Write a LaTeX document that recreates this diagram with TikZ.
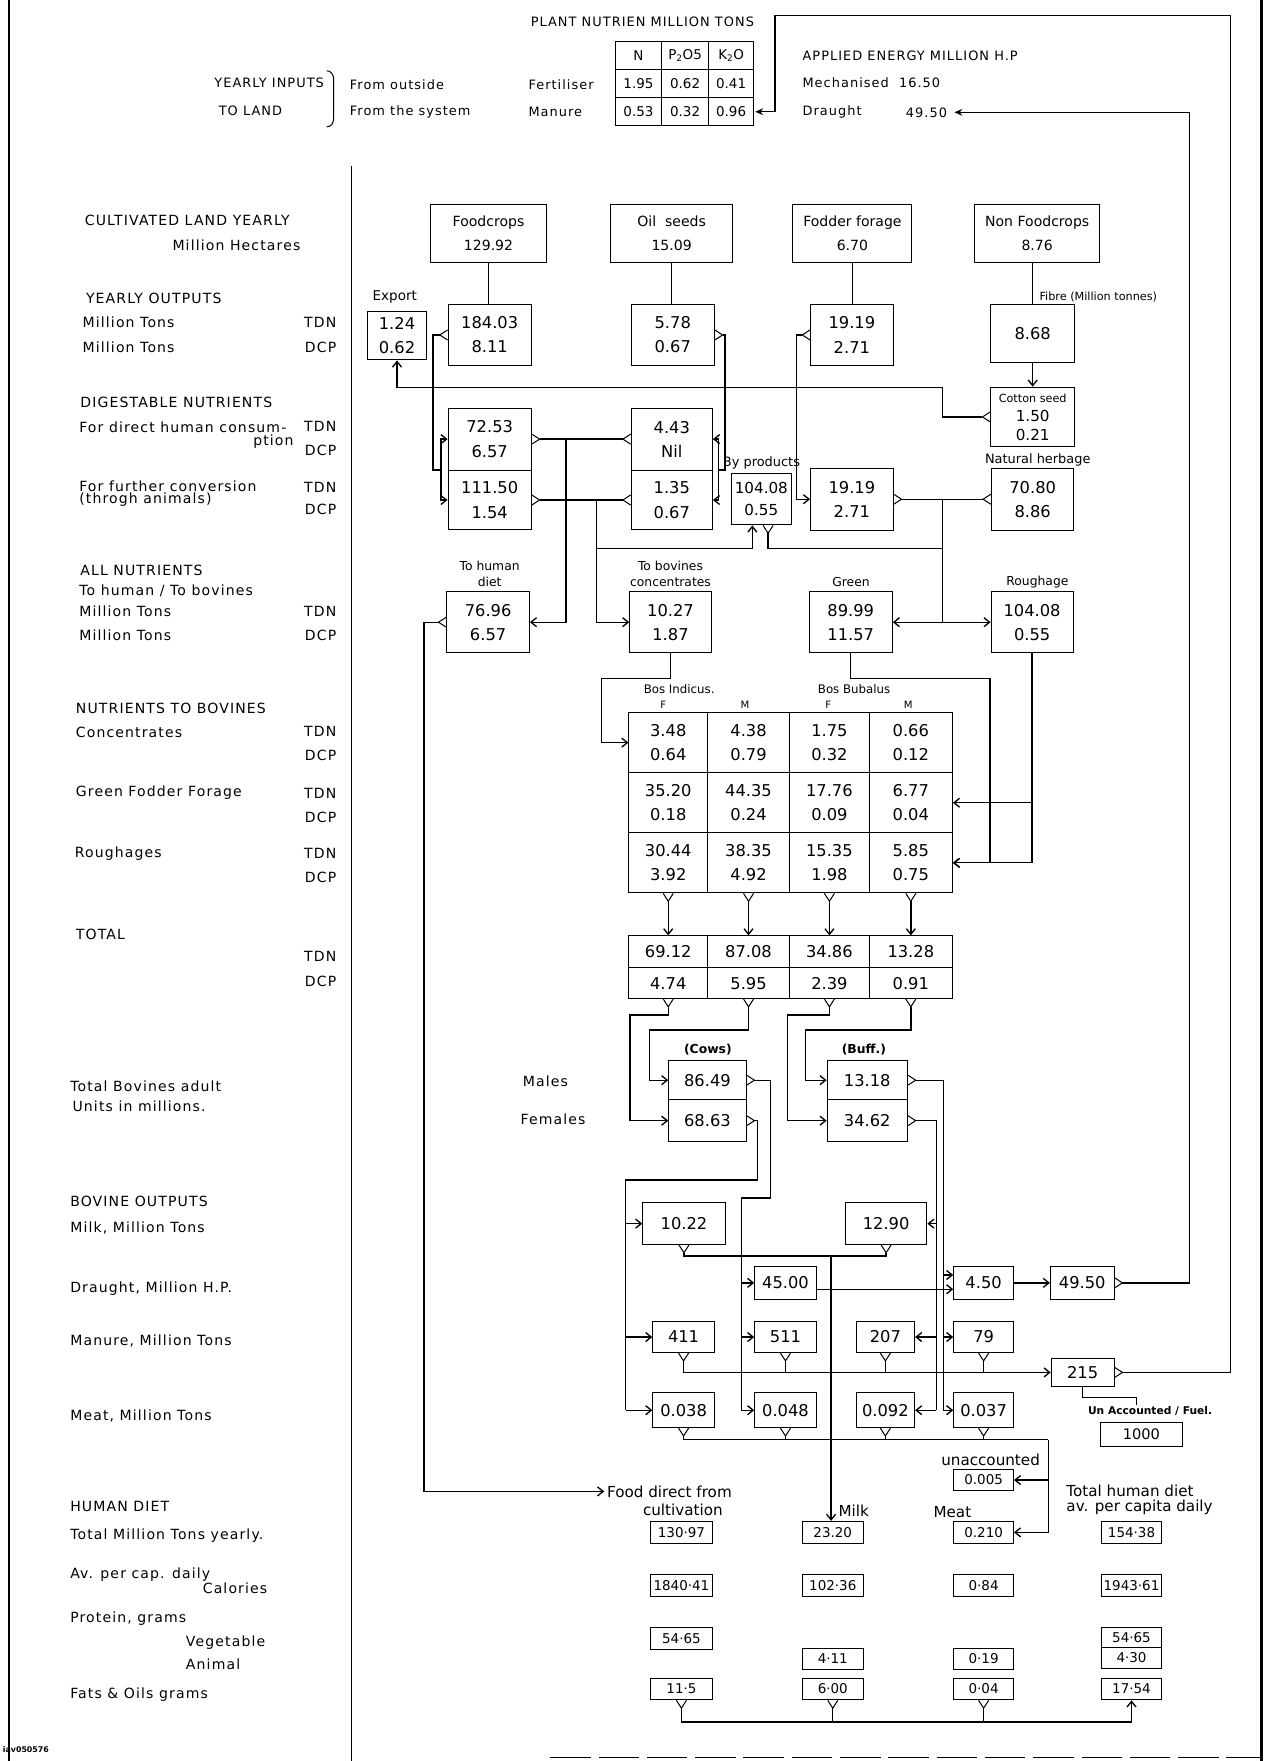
\documentclass[tikz,border=0pt]{standalone}
\usepackage{fontspec}
\setmainfont{DejaVu Sans}
\newfontfamily\spaced[LetterSpace=8]{DejaVu Sans}
\usetikzlibrary{arrows.meta}

\begin{document}
\begin{tikzpicture}[x=1pt,y=-1pt,line width=1.2pt,line cap=butt,line join=miter,
  >={Straight Barb[length=5pt,width=8pt]}]
\tikzset{
  box/.style={draw,line width=0.9pt,inner sep=0pt,align=center,font=\fontsize{14.5}{21.5}\selectfont},
  wh/.style 2 args={minimum width=#1pt,minimum height=#2pt},
  cropbox/.style={box,minimum height=52pt,font=\fontsize{12.5}{21.5}\selectfont},
  tcell/.style={box,minimum height=25pt,font=\fontsize{12}{14}\selectfont},
  tabcell/.style={box,minimum height=53.5pt},
  dietbox/.style={box,font=\fontsize{12}{14}\selectfont},
  rowlab/.style={anchor=west,inner sep=0pt,font=\spaced\fontsize{12.5}{14}\selectfont},
  unitlab/.style={rowlab,anchor=east},
  toptext/.style={anchor=west,inner sep=0pt,font=\spaced\fontsize{11.5}{13}\selectfont},
  tag/.style={inner sep=0pt,align=center,font=\fontsize{11}{13.4}\selectfont},
  dietlab/.style={inner sep=0pt,font=\fontsize{13.5}{15}\selectfont},
  port/.pic={\draw[line width=0.9pt] (0,-4.5) -- (7,0) -- (0,4.5);
    \coordinate (-tip) at (7,0);}
}
\useasboundingbox (0,0) rectangle (1128,1568);
% frame
\draw[line width=2.5pt] (8,0) -- (8,1568);
\draw[line width=2.5pt] (1123,0) -- (1123,1568);
\draw (313,148) -- (313,1568);
\draw[line width=1.5pt,dash pattern=on 36pt off 7pt] (490,1565) -- (1123,1565);

% yearly inputs to land
\node[toptext] (plant) at (472,19) {PLANT NUTRIEN MILLION TONS};
\node[tcell,minimum width=41pt] (hN) at (568.5,49.5) {N};
\node[tcell,minimum width=42pt] (hP) at (610,49.5) {P\textsubscript{2}O5};
\node[tcell,minimum width=40pt] (hK) at (651,49.5) {K\textsubscript{2}O};
\node[tcell,minimum width=41pt] (fN) at (568.5,74.5) {1.95};
\node[tcell,minimum width=42pt] (fP) at (610,74.5) {0.62};
\node[tcell,minimum width=40pt] (fK) at (651,74.5) {0.41};
\node[tcell,minimum width=41pt] (mN) at (568.5,99.5) {0.53};
\node[tcell,minimum width=42pt] (mP) at (610,99.5) {0.32};
\node[tcell,minimum width=40pt] (mK) at (651,99.5) {0.96};
\node[toptext,anchor=east] (inp) at (289,74) {YEARLY INPUTS};
\node[toptext,anchor=center] (land) at (223,99) {TO LAND};
\draw[line width=0.9pt] (291,63) to[out=0,in=90] (297,70) -- (297,106) to[out=-90,in=0] (291,113);
\node[toptext] (fout) at (311,75) {From outside};
\node[toptext] (fsys) at (311,100) {From the system};
\node[toptext] (fert) at (470,75) {Fertiliser};
\node[toptext] (manu) at (470,100) {Manure};
\node[toptext] (apen) at (714,50) {APPLIED ENERGY MILLION H.P};
\node[toptext] (mech) at (714,74) {Mechanised~~16.50};
\node[toptext] (drt) at (714,100) {Draught};
\node[toptext] (drv) at (806,100) {49.50};

% row labels
\node[rowlab] (lCult) at (75,196) {CULTIVATED LAND YEARLY};
\node[rowlab] (lHect) at (153,218) {Million Hectares};
\node[rowlab] (lYo) at (76,266) {YEARLY OUTPUTS};
\node[rowlab] (lYo1) at (73,287) {Million Tons};
\node[unitlab] (uYo1) at (300,287) {TDN};
\node[rowlab] (lYo2) at (73,309) {Million Tons};
\node[unitlab] (uYo2) at (300,309) {DCP};
\node[rowlab] (lDig) at (71,358) {DIGESTABLE NUTRIENTS};
\node[rowlab] (lDir) at (70,380) {For direct human consum-};
\node[rowlab,anchor=east] (lPtn) at (262,393) {ption};
\node[unitlab] (uDir1) at (300,380) {TDN};
\node[unitlab] (uDir2) at (300,401) {DCP};
\node[rowlab] (lFur) at (70,433) {For further conversion};
\node[rowlab] (lThr) at (70,445) {(throgh animals)};
\node[unitlab] (uFur1) at (300,434) {TDN};
\node[unitlab] (uFur2) at (300,454) {DCP};
\node[rowlab] (lAll) at (71,508) {ALL NUTRIENTS};
\node[rowlab] (lTo) at (70,526) {To human / To bovines};
\node[rowlab] (lAll1) at (70,544) {Million Tons};
\node[unitlab] (uAll1) at (300,544) {TDN};
\node[rowlab] (lAll2) at (70,566) {Million Tons};
\node[unitlab] (uAll2) at (300,566) {DCP};
\node[rowlab] (lNtb) at (67,631) {NUTRIENTS TO BOVINES};
\node[rowlab] (lCon) at (67,652) {Concentrates};
\node[unitlab] (uCon1) at (300,651) {TDN};
\node[unitlab] (uCon2) at (300,673) {DCP};
\node[rowlab] (lGrf) at (67,706) {Green Fodder Forage};
\node[unitlab] (uGrf1) at (300,706) {TDN};
\node[unitlab] (uGrf2) at (300,728) {DCP};
\node[rowlab] (lRgh) at (66,760) {Roughages};
\node[unitlab] (uRgh1) at (300,760) {TDN};
\node[unitlab] (uRgh2) at (300,781) {DCP};
\node[rowlab] (lTot) at (67,832) {TOTAL};
\node[unitlab] (uTot1) at (300,852) {TDN};
\node[unitlab] (uTot2) at (300,874) {DCP};
\node[rowlab] (lBov) at (62,967) {Total Bovines adult};
\node[rowlab] (lBov2) at (64,985) {Units in millions.};
\node[rowlab] (lBo) at (62,1070) {BOVINE OUTPUTS};
\node[rowlab] (lMilk) at (62,1093) {Milk, Million Tons};
\node[rowlab] (lDrau) at (62,1147) {Draught, Million H.P.};
\node[rowlab] (lManu) at (62,1194) {Manure, Million Tons};
\node[rowlab] (lMeat) at (62,1261) {Meat, Million Tons};
\node[rowlab] (lHd) at (62,1341) {HUMAN DIET};
\node[rowlab] (lHd1) at (62,1367) {Total Million Tons yearly.};
\node[rowlab] (lAv) at (62,1402) {Av. per cap. daily};
\node[rowlab] (lCal) at (180,1414) {Calories};
\node[rowlab] (lPro) at (62,1441) {Protein, grams};
\node[rowlab] (lVeg) at (165,1463) {Vegetable};
\node[rowlab] (lAni) at (165,1482) {Animal};
\node[rowlab] (lFat) at (62,1509) {Fats \& Oils grams};
\node[anchor=west,inner sep=0pt,font=\fontsize{7}{8}\selectfont\bfseries] (lId) at (2,1558) {iav050576};

% cultivated land
\node[cropbox,minimum width=104pt] (fc) at (435,207.75) {Foodcrops\\129.92};
\node[cropbox,minimum width=108pt] (os) at (598,207.75) {Oil~~seeds\\15.09};
\node[cropbox,minimum width=106pt] (ff) at (759,207.75) {Fodder forage\\6.70};
\node[cropbox,minimum width=111pt] (nf) at (923.5,207.75) {Non Foodcrops\\8.76};

% yearly outputs
\node[tag,font=\fontsize{12}{14}\selectfont] (exl) at (351.5,264) {Export};
\node[box,wh={53}{43}] (ex) at (353.5,299) {1.24\\0.62};
\node[box,wh={74}{53.5}] (o1) at (436,298.25) {184.03\\8.11};
\node[box,wh={74}{53.5}] (o2) at (599,298.25) {5.78\\0.67};
\node[box,wh={73.5}{53.5}] (o3) at (758.5,298.25) {19.19\\2.71};
\node[box,wh={74.5}{51}] (fib) at (919.5,297) {8.68};
\node[tag,anchor=west,font=\fontsize{10}{12}\selectfont] (fibl) at (925,264) {Fibre (Million tonnes)};
\node[box,wh={74.5}{53},font=\fontsize{13.5}{17}\selectfont] (cs) at (919.5,371.25) {{\fontsize{10}{12}\selectfont Cotton seed}\\1.50\\0.21};

% digestable nutrients
\node[box,wh={74}{55}] (d1) at (436,391) {72.53\\6.57};
\node[box,wh={74}{53.4}] (d2) at (436,445.2) {111.50\\1.54};
\node[box,wh={72.3}{55}] (d3) at (598.2,391) {4.43\\Nil};
\node[box,wh={72.3}{53.4}] (d4) at (598.2,445.2) {1.35\\0.67};
\node[tag,font=\fontsize{11.5}{13}\selectfont] (bpl) at (678,412) {By products};
\node[box,wh={53.6}{46},font=\fontsize{13.5}{20}\selectfont] (bp) at (677.9,444.4) {104.08\\0.55};
\node[box,wh={73.5}{55}] (d5) at (758.5,444.5) {19.19\\2.71};
\node[tag,font=\fontsize{11.5}{13}\selectfont] (nhl) at (924,409.5) {Natural herbage};
\node[box,wh={73.5}{55}] (nh) at (919.5,444.5) {70.80\\8.86};

% all nutrients
\node[tag] (hdl) at (436,511) {To human\\diet};
\node[box,wh={73.5}{54.3}] (hd) at (434.6,554) {76.96\\6.57};
\node[tag] (bcl) at (597,511) {To bovines\\concentrates};
\node[box,wh={72.4}{54.3}] (bc) at (597,554) {10.27\\1.87};
\node[tag] (grl) at (757.7,518) {Green};
\node[box,wh={74}{54.3}] (gr) at (757.5,554) {89.99\\11.57};
\node[tag] (rgl) at (923.7,518) {Roughage};
\node[box,wh={73}{54.3}] (rg) at (919,554) {104.08\\0.55};

% nutrients to bovines
\node[tag,font=\fontsize{10.5}{12}\selectfont] (bil) at (604.7,613.4) {Bos Indicus.};
\node[tag,font=\fontsize{10.5}{12}\selectfont] (bbl) at (760.5,613.4) {Bos Bubalus};
\node[tag,font=\fontsize{9}{10}\selectfont] (sx1) at (590.6,627.7) {F};
\node[tag,font=\fontsize{9}{10}\selectfont] (sx2) at (663.3,627.7) {M};
\node[tag,font=\fontsize{9}{10}\selectfont] (sx3) at (737.5,627.7) {F};
\node[tag,font=\fontsize{9}{10}\selectfont] (sx4) at (808.7,627.7) {M};
\node[tabcell,minimum width=70pt] (conc1) at (595,661.25) {3.48\\0.64};
\node[tabcell,minimum width=73pt] (conc2) at (666.5,661.25) {4.38\\0.79};
\node[tabcell,minimum width=71pt] (conc3) at (738.5,661.25) {1.75\\0.32};
\node[tabcell,minimum width=74pt] (conc4) at (811,661.25) {0.66\\0.12};
\node[tabcell,minimum width=70pt] (grn1) at (595,714.75) {35.20\\0.18};
\node[tabcell,minimum width=73pt] (grn2) at (666.5,714.75) {44.35\\0.24};
\node[tabcell,minimum width=71pt] (grn3) at (738.5,714.75) {17.76\\0.09};
\node[tabcell,minimum width=74pt] (grn4) at (811,714.75) {6.77\\0.04};
\node[tabcell,minimum width=70pt] (rgh1) at (595,768.25) {30.44\\3.92};
\node[tabcell,minimum width=73pt] (rgh2) at (666.5,768.25) {38.35\\4.92};
\node[tabcell,minimum width=71pt] (rgh3) at (738.5,768.25) {15.35\\1.98};
\node[tabcell,minimum width=74pt] (rgh4) at (811,768.25) {5.85\\0.75};

% totals
\node[box,wh={70}{28.4}] (tot1) at (595,847.5) {69.12};
\node[box,wh={73}{28.4}] (tot2) at (666.5,847.5) {87.08};
\node[box,wh={71}{28.4}] (tot3) at (738.5,847.5) {34.86};
\node[box,wh={74}{28.4}] (tot4) at (811,847.5) {13.28};
\node[box,wh={70}{27.3}] (dcp1) at (595,875.35) {4.74};
\node[box,wh={73}{27.3}] (dcp2) at (666.5,875.35) {5.95};
\node[box,wh={71}{27.3}] (dcp3) at (738.5,875.35) {2.39};
\node[box,wh={74}{27.3}] (dcp4) at (811,875.35) {0.91};

% adult units
\node[tag,font=\fontsize{11}{13}\selectfont\bfseries] (cowl) at (630.3,934.8) {(Cows)};
\node[tag,font=\fontsize{11}{13}\selectfont\bfseries] (bufl) at (769.2,934.8) {(Buff.)};
\node[box,wh={68.8}{35}] (cm) at (629.9,961.8) {86.49};
\node[box,wh={68.8}{37.1}] (cf) at (629.9,997.85) {68.63};
\node[box,wh={71.4}{35}] (bm) at (772.2,961.8) {13.18};
\node[box,wh={71.4}{37.1}] (bf) at (772.2,997.85) {34.62};
\node[rowlab] (males) at (465,963) {Males};
\node[rowlab] (fem) at (463,997) {Females};

% bovine outputs
\node[box,wh={73.3}{37}] (m1) at (609,1089.5) {10.22};
\node[box,wh={72.5}{37}] (m2) at (789,1089.5) {12.90};
\node[box,wh={54.8}{29}] (g1) at (699.4,1142.25) {45.00};
\node[box,wh={53.2}{29}] (g2) at (875.8,1142.25) {4.50};
\node[box,wh={56.7}{29}] (g3) at (963.65,1142.25) {49.50};
\node[box,wh={54.7}{27.6}] (n1) at (608.65,1190.5) {411};
\node[box,wh={54.8}{27.6}] (n2) at (699.4,1190.5) {511};
\node[box,wh={52}{27.6}] (n3) at (788.35,1190.5) {207};
\node[box,wh={53.2}{27.6}] (n4) at (875.8,1190.5) {79};
\node[box,wh={56}{25.2}] (n5) at (964,1222) {215};
\node[tag,font=\fontsize{9.5}{11}\selectfont\bfseries] (ual) at (1024,1256) {Un Accounted / Fuel.};
\node[box,wh={73.3}{21.4},font=\fontsize{13}{15}\selectfont] (ua) at (1016.35,1277.3) {1000};
\node[box,wh={54.7}{31}] (e1) at (608.65,1255.65) {0.038};
\node[box,wh={54.8}{31}] (e2) at (699.4,1255.65) {0.048};
\node[box,wh={52}{31}] (e3) at (788.35,1255.65) {0.092};
\node[box,wh={53.2}{31}] (e4) at (875.8,1255.65) {0.037};

% human diet
\node[dietlab,anchor=west] (fdl) at (540,1328) {Food direct from};
\node[dietlab] (cul) at (608,1344.4) {cultivation};
\node[dietlab,anchor=west] (mil) at (746,1345) {Milk};
\node[dietlab] (mel) at (848,1346) {Meat};
\node[dietlab] (unl) at (882,1300) {unaccounted};
\node[dietlab,anchor=west] (thd) at (949,1327) {Total human diet};
\node[dietlab,anchor=west] (avp) at (949,1342) {av. per capita daily};
\node[dietbox,wh={53.2}{19.3}] (u5) at (875.8,1317.85) {0.005};
\node[dietbox,wh={55}{19.5}] (t1) at (606.75,1364.4) {130·97};
\node[dietbox,wh={54}{19.5}] (t2) at (741.5,1364.4) {23.20};
\node[dietbox,wh={53.2}{19.5}] (t3) at (875.8,1364.4) {0.210};
\node[dietbox,wh={53}{19.5}] (t4) at (1007.5,1364.4) {154·38};
\node[dietbox,wh={55}{19.3}] (c1) at (606.75,1412) {1840·41};
\node[dietbox,wh={54}{19.3}] (c2) at (741.5,1412) {102·36};
\node[dietbox,wh={53.2}{19.3}] (c3) at (875.8,1412) {0·84};
\node[dietbox,wh={53}{19.3}] (c4) at (1007.5,1412) {1943·61};
\node[dietbox,wh={55}{19.3}] (v1) at (606.75,1458.75) {54·65};
\node[dietbox,wh={53}{17.8}] (v4) at (1007.5,1458) {54·65};
\node[dietbox,wh={54}{18.7}] (a2) at (741.5,1476.75) {4·11};
\node[dietbox,wh={53.2}{18.7}] (a3) at (875.8,1476.75) {0·19};
\node[dietbox,wh={53}{18.4}] (a4) at (1007.5,1476.1) {4·30};
\node[dietbox,wh={55}{19.3}] (f1) at (606.75,1503.85) {11·5};
\node[dietbox,wh={54}{19.3}] (f2) at (741.5,1503.85) {6·00};
\node[dietbox,wh={53.2}{19.3}] (f3) at (875.8,1503.85) {0·04};
\node[dietbox,wh={53}{19.3}] (f4) at (1007.5,1503.85) {17·54};

% output ports
\pic[rotate=180] (pO1) at (o1.west) {port};
\pic (pO2) at (o2.east) {port};
\pic[rotate=180] (pO3) at (o3.west) {port};
\pic[rotate=180] (pCS) at (cs.west) {port};
\pic (pD1) at (d1.east) {port};
\pic[rotate=180] (pD3) at (d3.west) {port};
\pic (pD2) at (d2.east) {port};
\pic[rotate=180] (pD4) at (d4.west) {port};
\pic[rotate=-90] (pBP) at ([xshift=6pt]bp.south) {port};
\pic (pD5) at (d5.east) {port};
\pic[rotate=180] (pNH) at (nh.west) {port};
\pic[rotate=180] (pHD) at (hd.west) {port};
\pic[rotate=-90] (pR1) at (rgh1.south) {port};
\pic[rotate=-90] (pR2) at (rgh2.south) {port};
\pic[rotate=-90] (pR3) at (rgh3.south) {port};
\pic[rotate=-90] (pR4) at (rgh4.south) {port};
\pic[rotate=-90] (pT1) at (dcp1.south) {port};
\pic[rotate=-90] (pT2) at (dcp2.south) {port};
\pic[rotate=-90] (pT3) at (dcp3.south) {port};
\pic[rotate=-90] (pT4) at (dcp4.south) {port};
\pic (pCM) at (cm.east) {port};
\pic (pCF) at (cf.east) {port};
\pic (pBM) at (bm.east) {port};
\pic (pBF) at (bf.east) {port};
\pic[rotate=-90] (pM1) at (m1.south) {port};
\pic[rotate=-90] (pM2) at (m2.south) {port};
\pic (pG3) at (g3.east) {port};
\pic[rotate=-90] (pN1) at (n1.south) {port};
\pic[rotate=-90] (pN2) at (n2.south) {port};
\pic[rotate=-90] (pN3) at (n3.south) {port};
\pic[rotate=-90] (pN4) at (n4.south) {port};
\pic (pN5) at (n5.east) {port};
\pic[rotate=-90] (pE1) at (e1.south) {port};
\pic[rotate=-90] (pE2) at (e2.south) {port};
\pic[rotate=-90] (pE3) at (e3.south) {port};
\pic[rotate=-90] (pE4) at (e4.south) {port};
\pic[rotate=-90] (pF1) at (f1.south) {port};
\pic[rotate=-90] (pF2) at (f2.south) {port};
\pic[rotate=-90] (pF3) at (f3.south) {port};

% crops to yearly outputs
\draw (fc.south) -- (fc.south |- o1.north);
\draw (os.south) -- (os.south |- o2.north);
\draw (ff.south) -- (ff.south |- o3.north);
\draw (fib.north) -- (fib.north |- nf.south);
\draw[->] (fib.south) -- (cs.north);
\coordinate (ck) at (839,344.8);
\draw[->] (pCS-tip) -| (ck) -- (ck -| ex.south) -- (ex.south);

% yearly outputs to digestable nutrients
\coordinate (j1) at (392.6,418.5);
\draw (pO1-tip) -- ++(-6,0) |- (j1);
\draw[->] (j1) |- (d1.west);
\draw[->] (j1) |- (d2.west);
\coordinate (j2) at (639.5,418.5);
\draw (pO2-tip) -- ++(2,0) |- (j2);
\draw[->] (j2) |- (d3.east);
\draw[->] (j2) |- (d4.east);
\draw[->] (pO3-tip) -- ++(-5,0) |- (d5.west);

% digestable nutrients to all nutrients
\draw (pD1-tip) -- (pD3-tip);
\coordinate (hj) at (504,391);
\draw[->] (hj) |- (hd.east);
\draw (pD2-tip) -- (pD4-tip);
\coordinate (cj) at (531,445.2);
\draw[->] (cj) |- (bc.west);
\coordinate (bj) at (531,488.2);
\draw[->] (bj) -| ([xshift=-8pt]bp.south);
\draw (pD5-tip) -- (pNH-tip);
\coordinate (gj) at (839,444.5);
\coordinate (gk) at (839,554);
\draw (pBP-tip) |- (gj |- bj);
\draw (gj) -- (gk);
\draw[->] (gk) -- (gr.east);
\draw[->] (gk) -- (rg.west);
\draw[->,shorten >=2pt] (pHD-tip) -- ++(-13,0) |- (fdl.west);

% all nutrients to bovines
\coordinate (tj) at (535.7,603.9);
\draw[->] (bc.south) |- (tj) |- (conc1.west);
\coordinate (gq) at (881.4,603.9);
\draw[->] (gr.south) |- (gq) |- (rgh4.east);
\draw[->] (rg.south) |- (rgh4.east);
\draw[->] (rg.south |- grn4.east) -- (grn4.east);
\draw[->] (pR1-tip) -- (pR1-tip |- tot1.north);
\draw[->] (pR2-tip) -- (pR2-tip |- tot2.north);
\draw[->] (pR3-tip) -- (pR3-tip |- tot3.north);
\draw[->] (pR4-tip) -- (pR4-tip |- tot4.north);

% totals to adult units
\coordinate (k1) at (560.8,903.7);
\draw[->] (pT1-tip) |- (k1) |- (cf.west);
\coordinate (k2) at (578.2,917);
\draw[->] (pT2-tip) |- (k2) |- (cm.west);
\coordinate (k3) at (701,903.7);
\draw[->] (pT3-tip) |- (k3) |- (bf.west);
\coordinate (k4) at (717.2,917);
\draw[->] (pT4-tip) |- (k4) |- (bm.west);

% adult units to bovine outputs
\coordinate (bm1) at (686.3,1066.8);
\coordinate (busM) at (660,1066.8);
\draw (pCM-tip) -| (bm1) -- (busM) -- (busM |- e2.west);
\draw[->] (busM |- g1.west) -- (g1.west);
\draw[->] (busM |- n2.west) -- (n2.west);
\draw[->] (busM |- e2.west) -- (e2.west);
\coordinate (bf1) at (674.7,1050.6);
\coordinate (busF) at (557,1050.6);
\draw (pCF-tip) -| (bf1) -- (busF) -- (busF |- e1.west);
\draw[->] (busF |- m1.west) -- (m1.west);
\draw[->] (busF |- n1.west) -- (n1.west);
\draw[->] (busF |- e1.west) -- (e1.west);
\coordinate (busBM) at (840,961.8);
\path ([yshift=7pt]g2.west) coordinate (g2a);
\path ([yshift=-5.7pt]g2.west) coordinate (g2b);
\draw (pBM-tip) -- (busBM) -- (busBM |- e4.west);
\draw[->] (busBM |- g2a) -- (g2a);
\draw[->] (busBM |- n4.west) -- (n4.west);
\draw[->] (busBM |- e4.west) -- (e4.west);
\coordinate (busBF) at (833.8,997.85);
\draw (pBF-tip) -- (busBF) -- (busBF |- e3.east);
\draw[->] (busBF |- m2.east) -- (m2.east);
\draw[->] (busBF |- n3.east) -- (n3.east);
\draw[->] (busBF |- e3.east) -- (e3.east);

% milk
\coordinate (mk) at (740,1118.2);
\draw (pM1-tip) |- (mk);
\draw (pM2-tip) |- (mk);
\draw[->] (mk) -- (mk |- t2.north);

% draught
\draw[->] (g1.east |- g2b) -- (g2b);
\draw[->] (g2.east) -- (g3.west);
\coordinate (lpA) at (1059,100);
\draw[-{Stealth[length=7pt,width=6pt]},shorten >=6pt] (pG3-tip) -| (lpA) -- (drv.east);

% manure
\draw[->] (pN1-tip) |- (n5.west);
\draw (pN2-tip) -- (pN2-tip |- n5.west);
\draw (pN3-tip) -- (pN3-tip |- n5.west);
\draw (pN4-tip) -- (pN4-tip |- n5.west);
\coordinate (lpB) at (1095.5,14);
\coordinate (lpC) at (690,14);
\draw[-{Stealth[length=7pt,width=6pt]},shorten >=1pt] (pN5-tip) -| (lpB) -- (lpC) |- (mK.east);
\draw[line width=0.9pt] (n5.south) -- ++(0,9) -| ([xshift=-12pt]ual.north);

% meat
\coordinate (mq) at (933.3,1282);
\draw (pE1-tip) |- (mq);
\draw (pE2-tip) -- (pE2-tip |- mq);
\draw (pE3-tip) -- (pE3-tip |- mq);
\draw (pE4-tip) -- (pE4-tip |- mq);
\draw[->] (mq) |- (t3.east);
\draw[->] (mq |- u5.east) -- (u5.east);

% fats and oils
\path (f4.south) ++(0,19.3) coordinate (fq);
\draw (pF1-tip) |- (fq);
\draw[->] (fq) -- (f4.south);
\draw (pF2-tip) -- (pF2-tip |- fq);
\draw (pF3-tip) -- (pF3-tip |- fq);
\end{tikzpicture}
\end{document}
